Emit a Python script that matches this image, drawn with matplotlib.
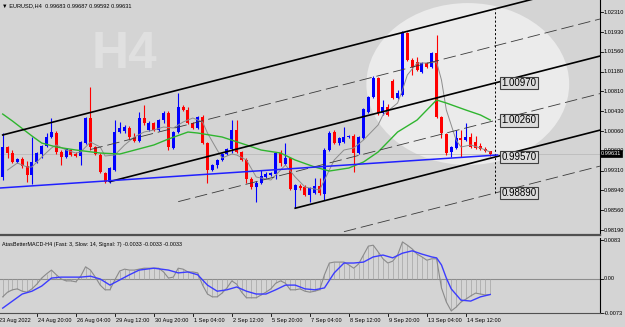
import numpy as np
import matplotlib
matplotlib.use("Agg")
import matplotlib.pyplot as plt
from matplotlib.patches import Ellipse
from matplotlib.transforms import blended_transform_factory as blend

plt.rcParams['font.family'] = ['Liberation Sans', 'DejaVu Sans']
plt.rcParams['lines.scale_dashes'] = False

# EURUSD H4 candles (bar 0 = leftmost visible bar)
opens = [0.99192, 0.99759, 0.99645, 0.99475, 0.99532, 0.99400, 0.99230, 0.99475, 0.99626, 0.99778,
         0.99948, 1.00023, 0.99664, 0.99570, 0.99702, 0.99626, 0.99589, 0.99834, 1.00307, 0.99759,
         0.99608, 0.99267, 0.99097, 0.99324, 1.00042, 1.00061, 1.00118, 0.99948, 0.99872, 1.00307,
         1.00080, 1.00212, 1.00080, 1.00269, 1.00401, 0.99740, 1.00042, 1.00515, 1.00458, 1.00212,
         1.00118, 1.00326, 0.99834, 0.99324, 0.99419, 0.99513, 0.99626, 0.99721, 1.00080, 0.99664,
         0.99513, 0.99154, 0.99003, 0.99078, 0.99192, 0.99230, 0.99248, 0.99645, 0.99437, 0.99551,
         0.98946, 0.99022, 0.99003, 0.98852, 0.98889, 0.99022, 0.98871, 0.99702, 1.00042, 0.99834,
         0.99853, 0.99948, 0.99967, 0.99645, 0.99929, 1.00420, 1.00704, 1.01063, 1.00401, 1.00515,
         1.01006, 1.00685, 1.00742, 1.01913, 1.01403, 1.01365, 1.01176, 1.01346, 1.01271, 1.01535,
         1.00326, 1.00004, 0.99664, 0.99740, 0.99929, 0.99891, 0.99948, 0.99853, 0.99778, 0.99721,
         0.99683]
highs = [1.00023, 0.99778, 0.99702, 0.99551, 0.99570, 0.99494, 0.99948, 0.99664, 0.99797, 1.00023,
         1.00307, 1.00061, 0.99702, 0.99740, 0.99721, 0.99664, 0.99872, 1.00326, 1.00893, 0.99778,
         0.99645, 0.99286, 0.99381, 1.00269, 1.00231, 1.00175, 1.00156, 1.00023, 1.00420, 1.00553,
         1.00250, 1.00231, 1.00288, 1.00439, 1.00439, 1.00061, 1.00779, 1.00553, 1.00515, 1.00231,
         1.00345, 1.00364, 0.99853, 0.99437, 0.99532, 0.99645, 0.99740, 1.00269, 1.00269, 0.99683,
         0.99551, 0.99192, 0.99116, 0.99324, 0.99286, 0.99286, 0.99664, 0.99702, 0.99834, 0.99570,
         0.99059, 0.99059, 0.99041, 0.99003, 0.99173, 0.99173, 0.99740, 1.00061, 1.00080, 0.99948,
         1.00137, 0.99986, 1.00004, 0.99967, 1.00496, 1.00723, 1.01101, 1.01082, 1.00647, 1.00571,
         1.01044, 1.00836, 1.01951, 1.01932, 1.01441, 1.01460, 1.01365, 1.01365, 1.01554, 1.01876,
         1.00345, 1.00023, 0.99778, 1.00080, 1.00080, 1.00212, 1.00023, 0.99967, 0.99834, 0.99759,
         0.99687]
lows = [0.99135, 0.99551, 0.99456, 0.99456, 0.99362, 0.99097, 0.99059, 0.99456, 0.99551, 0.99759,
        0.99929, 0.99626, 0.99419, 0.99551, 0.99589, 0.99570, 0.99419, 0.99815, 0.99702, 0.99608,
        0.99267, 0.99078, 0.99078, 0.99305, 1.00023, 1.00023, 0.99910, 0.99853, 0.99853, 1.00175,
        1.00061, 1.00061, 1.00061, 1.00212, 0.99702, 0.99721, 1.00023, 1.00439, 1.00193, 1.00099,
        1.00099, 0.99815, 0.99078, 0.99305, 0.99362, 0.99494, 0.99608, 0.99645, 0.99645, 0.99494,
        0.99078, 0.98965, 0.98719, 0.99059, 0.99173, 0.99211, 0.99154, 0.99400, 0.99419, 0.98946,
        0.98606, 0.98946, 0.98833, 0.98719, 0.98871, 0.98852, 0.98757, 0.99683, 0.99815, 0.99797,
        0.99834, 0.99929, 0.99286, 0.99626, 0.99910, 1.00401, 1.00685, 1.00364, 1.00364, 1.00345,
        1.00666, 1.00666, 1.00723, 1.01384, 1.01120, 1.01195, 1.01157, 1.01252, 1.01252, 1.00307,
        0.99929, 0.99608, 0.99570, 0.99721, 0.99570, 0.99872, 0.99740, 0.99721, 0.99702, 0.99664,
        0.99592]
closes = [0.99759, 0.99645, 0.99475, 0.99532, 0.99400, 0.99230, 0.99475, 0.99645, 0.99778, 0.99948,
          1.00042, 0.99664, 0.99570, 0.99721, 0.99608, 0.99589, 0.99853, 1.00307, 0.99759, 0.99626,
          0.99286, 0.99097, 0.99362, 1.00042, 1.00118, 1.00137, 0.99948, 0.99872, 1.00307, 1.00212,
          1.00212, 1.00080, 1.00269, 1.00401, 0.99759, 1.00042, 1.00515, 1.00458, 1.00212, 1.00118,
          1.00326, 0.99834, 0.99324, 0.99419, 0.99513, 0.99626, 0.99721, 1.00080, 0.99664, 0.99513,
          0.99154, 0.99003, 0.99078, 0.99211, 0.99248, 0.99267, 0.99645, 0.99456, 0.99551, 0.98965,
          0.99041, 0.98984, 0.98852, 0.98984, 0.99022, 0.98889, 0.99702, 1.00023, 0.99834, 0.99929,
          0.99948, 0.99967, 0.99645, 0.99948, 1.00477, 1.00704, 1.01063, 1.00401, 1.00515, 1.00364,
          1.00685, 1.00779, 1.01913, 1.01403, 1.01271, 1.01214, 1.01346, 1.01271, 1.01535, 1.00326,
          1.00023, 0.99645, 0.99759, 0.99929, 0.99891, 0.99948, 0.99759, 0.99740, 0.99721, 0.99683,
          0.99631]

# fast (gray) and slow (green) moving averages
gray_bars = [1, 3, 5, 6, 8, 10, 11, 13, 15, 16, 18, 20, 21, 23, 25, 27, 29, 31, 33, 35,
             37, 39, 41, 42, 44, 45, 47, 48, 50, 52, 55, 57, 58, 60, 62, 65, 66, 68, 70, 72,
             74, 77, 78, 81, 82, 83, 85, 87, 89, 90, 91, 93, 94, 96, 98, 100]
gray_vals = [0.99324, 0.99456, 0.99381, 0.99381, 0.99570, 0.99740, 0.99797, 0.99702, 0.99645, 0.99664,
             0.99853, 0.99759, 0.99589, 0.99608, 0.99797, 0.99948, 1.00042, 1.00080, 1.00137, 1.00118,
             1.00231, 1.00307, 1.00231, 1.00023, 0.99702, 0.99551, 0.99626, 0.99608, 0.99513, 0.99192,
             0.99135, 0.99324, 0.99419, 0.99192, 0.99003, 0.98946, 0.99135, 0.99513, 0.99702, 0.99740,
             0.99891, 1.00175, 1.00364, 1.00590, 1.00836, 1.01120, 1.01346, 1.01346, 1.01365, 1.01025,
             1.00458, 0.99891, 0.99759, 0.99797, 0.99740, 0.99664]
green_bars = [0, 2, 6, 8, 11, 15, 20, 24, 31, 34, 38, 40, 45, 50, 53, 57, 60, 64, 67, 71,
              74, 77, 81, 85, 88, 89, 91, 95, 98, 100]
green_vals = [1.00382, 1.00250, 0.99967, 0.99834, 0.99759, 0.99702, 0.99645, 0.99626, 0.99797, 0.99910,
              1.00042, 1.00023, 0.99948, 0.99797, 0.99702, 0.99645, 0.99513, 0.99381, 0.99305, 0.99362,
              0.99475, 0.99664, 1.00042, 1.00269, 1.00553, 1.00647, 1.00590, 1.00458, 1.00364, 1.00269]

# MACD (gray) per bar and its signal line (blue)
macd = [-0.0038, -0.0028, -0.0023, -0.0021, -0.0026, -0.0028, -0.0021, -0.0011, 0.0002, 0.0011,
        0.0019, 0.0009, 0.0000, -0.0004, -0.0004, -0.0006, 0.0006, 0.0026, 0.0019, 0.0004,
        -0.0013, -0.0023, -0.0023, -0.0002, 0.0017, 0.0021, 0.0019, 0.0019, 0.0021, 0.0023,
        0.0023, 0.0023, 0.0023, 0.0015, 0.0002, 0.0004, 0.0023, 0.0021, 0.0015, 0.0015,
        0.0013, -0.0013, -0.0032, -0.0038, -0.0038, -0.0030, -0.0019, -0.0004, -0.0011, -0.0028,
        -0.0040, -0.0040, -0.0040, -0.0034, -0.0028, -0.0021, -0.0009, -0.0004, -0.0009, -0.0023,
        -0.0023, -0.0021, -0.0026, -0.0028, -0.0026, -0.0023, 0.0009, 0.0034, 0.0036, 0.0036,
        0.0036, 0.0030, 0.0023, 0.0032, 0.0051, 0.0070, 0.0072, 0.0058, 0.0043, 0.0034,
        0.0038, 0.0051, 0.0079, 0.0072, 0.0064, 0.0053, 0.0047, 0.0040, 0.0043, 0.0043,
        -0.0019, -0.0049, -0.0068, -0.0060, -0.0049, -0.0043, -0.0036, -0.0030, -0.0032, -0.0034,
        -0.0033]
sig_bars = [0, 2, 4, 6, 8, 10, 12, 14, 16, 18, 20, 22, 24, 26, 28, 31, 34, 36, 38, 40,
            42, 44, 46, 48, 50, 52, 54, 56, 58, 60, 62, 64, 66, 68, 70, 72, 74, 76, 78, 80,
            82, 84, 86, 88, 89, 90, 91, 92, 94, 96, 98, 100]
sig_vals = [-0.0062, -0.0047, -0.0032, -0.0026, -0.0015, 0.0002, 0.0004, 0.0004, 0.0004, 0.0006,
            0.0000, -0.0013, -0.0002, 0.0009, 0.0019, 0.0023, 0.0019, 0.0013, 0.0015, 0.0009,
            -0.0013, -0.0026, -0.0023, -0.0017, -0.0026, -0.0032, -0.0032, -0.0023, -0.0013, -0.0013,
            -0.0021, -0.0023, -0.0019, 0.0013, 0.0034, 0.0034, 0.0036, 0.0047, 0.0051, 0.0045,
            0.0055, 0.0060, 0.0053, 0.0047, 0.0045, 0.0030, 0.0002, -0.0021, -0.0045, -0.0047,
            -0.0038, -0.0033]

# drawn objects: channel lines (start bar, value at marker bar), blue trendline, ellipse
mark_bar = 101
chan_slope = 0.000236
chan_start = [0, 18, 22, 36, 60, 70]
chan_at_mark = [1.02370, 1.01670, 1.00970, 1.00260, 0.99570, 0.98890]
chan_solid = [True, False, True, False, True, False]
boxed_levels = [1.00970, 1.00260, 0.99570, 0.98890]
trend_bars = [-0.6, 101.5]
trend_prices = [0.98984, 0.99608]
ell_center = (95.4, 1.00949)
ell_size = (41.6, 0.0306)

last_price = 0.99631
price_ticks = [1.02310, 1.01930, 1.01560, 1.01180, 1.00810, 1.00430, 1.00060,
               0.99690, 0.99310, 0.98940, 0.98560, 0.98190]
macd_ticks = [0.0083, 0.0, -0.0073]
macd_tick_labels = ['0.0083', '0.00', '-0.0073']
date_bars = [-1, 7, 15, 23, 31, 39, 47, 55, 63, 71, 79, 87, 95]
date_labels = ['23 Aug 2022', '24 Aug 20:00', '26 Aug 04:00', '29 Aug 12:00', '30 Aug 20:00',
               '1 Sep 04:00', '2 Sep 12:00', '5 Sep 20:00', '7 Sep 04:00', '8 Sep 12:00',
               '9 Sep 20:00', '13 Sep 04:00', '14 Sep 12:00']

bg = '#d4d4d4'
bull = '#0000ff'
bear = '#ff0000'
small = 4.1

fig = plt.figure(figsize=(6.25, 3.27), dpi=100, facecolor=bg)
ax = fig.add_axes([0, 92 / 327, 600 / 625, 235 / 327], facecolor=bg)
ax2 = fig.add_axes([0, 14 / 327, 600 / 625, 75 / 327], facecolor=bg)

x_lo, x_hi = -0.554, 122.52
ax.set_xlim(x_lo, x_hi)
ax.set_ylim(0.98096, 1.02537)
ax2.set_xlim(x_lo, x_hi)
ax2.set_ylim(-0.00724, 0.00873)

for a in (ax, ax2):
    a.set_xticks([])
    a.set_yticks([])
    a.spines['top'].set_visible(False)
    a.spines['left'].set_visible(False)
    a.spines['right'].set_color('black')
    a.spines['right'].set_linewidth(0.8)
ax.spines['bottom'].set_color('#505050')
ax.spines['bottom'].set_linewidth(1.6)
ax2.spines['bottom'].set_color('#505050')
ax2.spines['bottom'].set_linewidth(0.8)

# background decorations
ax.text(0.207, 0.766, 'H4', transform=ax.transAxes, fontsize=37, fontweight='bold',
        color='#e0e0e0', ha='center', va='center', zorder=0.3)
ax.add_patch(Ellipse(ell_center, ell_size[0], ell_size[1], fc='#ebebeb', ec='none', zorder=0.5))
ax.axhline(last_price, color='#bcbcbc', lw=0.6, zorder=1)

# candles
x = np.arange(len(closes))
o = np.array(opens)
c = np.array(closes)
cols = np.where(c >= o, bull, bear)
ax.vlines(x, lows, highs, colors=cols, lw=0.8, zorder=3)
ax.bar(x, np.maximum(np.abs(c - o), 0.00004), bottom=np.minimum(o, c), width=0.62,
       color=cols, lw=0, zorder=3)

ax.plot(gray_bars, gray_vals, color='#8c8c8c', lw=0.7, zorder=3.5)
ax.plot(green_bars, green_vals, color='#2fb52f', lw=1.0, zorder=3.5)

# channel
for s, p, solid in zip(chan_start, chan_at_mark, chan_solid):
    xs = np.array([s, x_hi])
    ys = p + chan_slope * (xs - mark_bar)
    if solid:
        ax.plot(xs, ys, color='black', lw=1.2, zorder=4)
    else:
        ax.plot(xs, ys, color='#3a3a3a', lw=0.6, dashes=(9, 3.5), zorder=4)
ax.plot([mark_bar, mark_bar], [chan_at_mark[-1], chan_at_mark[0]], color='black', lw=0.7,
        ls=(0, (1.5, 1.5)), zorder=4)
ax.plot(trend_bars, trend_prices, color='#2020ff', lw=1.1, zorder=4)

for p in boxed_levels:
    ax.text(mark_bar + 1.3, p, f'{p:.5f}', fontsize=7, ha='left', va='center', zorder=6,
            bbox=dict(boxstyle='square,pad=0.12', fc='#dcdcdc', ec='#404040', lw=0.8))

# right price scale
tr = blend(ax.transAxes, ax.transData)
for p in price_ticks:
    ax.plot([1.0, 1.005], [p, p], transform=tr, color='black', lw=0.6, clip_on=False)
    ax.text(1.006, p, f'{p:.5f}', transform=tr, fontsize=small, ha='left', va='center')
ax.text(1.002, last_price, f'{last_price:.5f}', transform=tr, fontsize=small, ha='left',
        va='center', color='white', zorder=7,
        bbox=dict(boxstyle='square,pad=0.15', fc='black', ec='black', lw=0.5))

fig.text(2 / 625, 1 - 6 / 327, '\u25bc EURUSD,H4  0.99683 0.99687 0.99592 0.99631',
         fontsize=small, ha='left', va='center')

# MACD panel
ax2.axhline(0, color='#8c8c8c', lw=0.8, zorder=1)
ax2.vlines(x, 0, macd, colors='#a4a4a4', lw=0.5, zorder=2)
ax2.plot(x, macd, color='#8a8a8a', lw=0.8, zorder=3)
ax2.plot(sig_bars, sig_vals, color='#3c3cff', lw=1.0, zorder=4)
ax2.text(0.004, 0.95, 'AtasBetterMACD-H4 (Fast: 3, Slow: 14, Signal: 7) -0.0033 -0.0033 -0.0033',
         transform=ax2.transAxes, fontsize=3.9, ha='left', va='top')
tr2 = blend(ax2.transAxes, ax2.transData)
for v, lab in zip(macd_ticks, macd_tick_labels):
    ax2.plot([1.0, 1.005], [v, v], transform=tr2, color='black', lw=0.6, clip_on=False)
    ax2.text(1.006, v, lab, transform=tr2, fontsize=small, ha='left', va='center')

# time axis
trx = blend(ax2.transData, ax2.transAxes)
for b, lab in zip(date_bars, date_labels):
    ax2.plot([b, b], [0, -0.04], transform=trx, color='black', lw=0.6, clip_on=False)
    ax2.text(b + 0.2, -0.095, lab, transform=trx, fontsize=small, ha='left', va='center',
             clip_on=False)

fig.savefig('out.png', dpi=100, facecolor=bg)
